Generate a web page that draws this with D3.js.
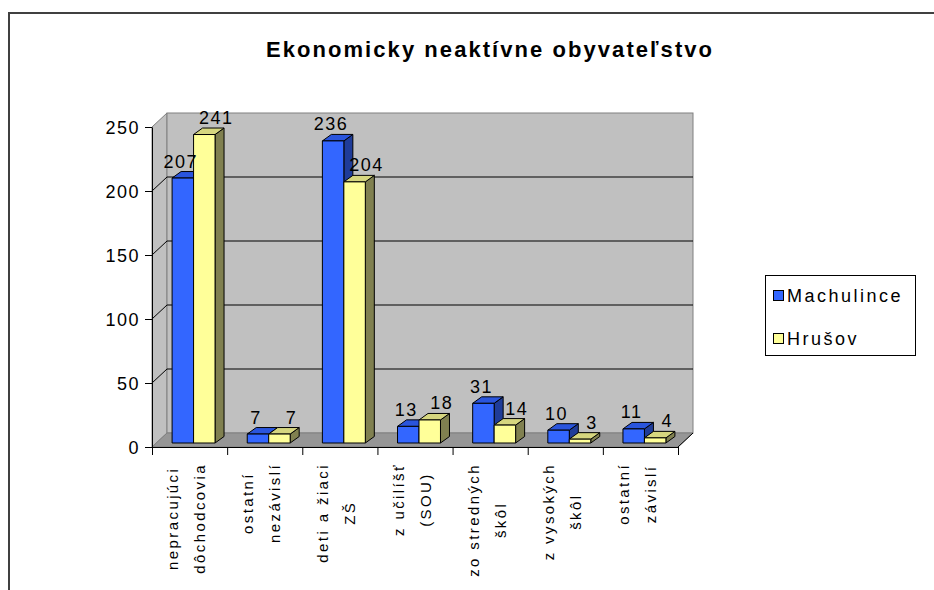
<!DOCTYPE html>
<html><head><meta charset="utf-8">
<script src="https://cdn.jsdelivr.net/npm/d3@7/dist/d3.min.js"></script>
<style>
html,body{margin:0;padding:0;background:#fff;}
svg{display:block;font-family:"Liberation Sans",Arial,sans-serif;}
</style></head>
<body>
<svg id="chart" width="934" height="590"></svg>
<script>
const title = "Ekonomicky neaktívne obyvateľstvo";
const categories = [
  ["nepracujúci","dôchodcovia"],
  ["ostatní","nezávislí"],
  ["deti a žiaci","ZŠ"],
  ["z učilíšť","(SOU)"],
  ["zo stredných","škôl"],
  ["z vysokých","škôl"],
  ["ostatní","závislí"]
];
const seriesNames = ["Machulince","Hrušov"];
const machulince = [207,7,236,13,31,10,11];
const hrusov = [241,7,204,18,14,3,4];
const yTicks = [0,50,100,150,200,250];

const seriesValues = [machulince, hrusov];
const colors = [
  {front:"#3366FF", top:"#2A55DD", side:"#1F3C99"},
  {front:"#FFFF99", top:"#D6D67F", side:"#808050"}
];

const svg = d3.select("#chart");

// outer frame
svg.append("path").attr("d","M9,590 V13 H934").attr("fill","none")
  .attr("stroke","#404040").attr("stroke-width",2);

// geometry
const X0 = 152, X1 = 678, Y0 = 447, Y1 = 127;
const DX = 15, DY = -14;          // wall depth
const BOX = 4, BOY = -4;          // bar front offset
const BDX = 9, BDY = -6.5;        // bar depth

const y = d3.scaleLinear().domain([0,250]).range([Y0, Y1]);
const x = d3.scaleBand().domain(d3.range(categories.length)).range([X0, X1]).paddingInner(0).paddingOuter(0);
const xs = d3.scaleBand().domain(d3.range(seriesNames.length)).range([0, x.bandwidth()]).paddingInner(0).paddingOuter(0.75);
const xIdx = d3.scaleLinear().domain([0, categories.length]).range([X0, X1]);

const g = svg.append("g");

// side (left) wall
g.append("path")
  .attr("d", `M${X0},${y(0)} L${X0},${y(250)} L${X0+DX},${y(250)+DY} L${X0+DX},${y(0)+DY} Z`)
  .attr("fill","#C0C0C0").attr("stroke","#808080").attr("stroke-width",1);
// back wall
g.append("rect")
  .attr("x", X0+DX).attr("y", y(250)+DY)
  .attr("width", X1-X0).attr("height", y(0)-y(250))
  .attr("fill","#C0C0C0").attr("stroke","#808080").attr("stroke-width",1);
// floor
g.append("path")
  .attr("d", `M${X0},${y(0)} L${X1},${y(0)} L${X1+DX},${y(0)+DY} L${X0+DX},${y(0)+DY} Z`)
  .attr("fill","#969696").attr("stroke","#808080").attr("stroke-width",1);
g.append("line")
  .attr("x1", X1).attr("y1", y(0)).attr("x2", X1+DX).attr("y2", y(0)+DY)
  .attr("stroke","#000").attr("stroke-width",1);

// gridlines
const gridVals = yTicks.filter(v => v > 0 && v < 250);
g.selectAll("path.grid").data(gridVals).enter().append("path").attr("class","grid")
  .attr("d", v => `M${X0},${y(v)} L${X0+DX},${y(v)+DY} L${X1+DX},${y(v)+DY}`)
  .attr("fill","none").attr("stroke","#000").attr("stroke-width",1);

// bars
const barW = xs.bandwidth();
function drawBar(parent, bx, val, c) {
  const yt = y(val) + BOY, yb = y(0) + BOY;
  const x0 = bx + BOX, x1 = x0 + barW;
  const bg = parent.append("g").attr("stroke","#000").attr("stroke-width",1).attr("stroke-linejoin","round");
  bg.append("path").attr("d", `M${x1},${yb} L${x1},${yt} L${x1+BDX},${yt+BDY} L${x1+BDX},${yb+BDY} Z`).attr("fill", c.side);
  bg.append("path").attr("d", `M${x0},${yt} L${x0+BDX},${yt+BDY} L${x1+BDX},${yt+BDY} L${x1},${yt} Z`).attr("fill", c.top);
  bg.append("rect").attr("x", x0).attr("y", yt).attr("width", barW).attr("height", yb-yt).attr("fill", c.front);
}
const labelDX = [-2, 12];
const labels = [];
categories.forEach((cat, i) => {
  seriesValues.forEach((vals, s) => {
    const bx = x(i) + xs(s);
    drawBar(g, bx, vals[i], colors[s]);
    labels.push({x: bx + BOX + barW/2 + labelDX[s], y: y(vals[i]) + BOY + BDY - 4, t: vals[i]});
  });
});

// data labels
g.selectAll("text.dl").data(labels).enter().append("text").attr("class","dl")
  .attr("x", d => d.x).attr("y", d => d.y)
  .attr("text-anchor","middle").attr("font-size",18).attr("letter-spacing","1.5px")
  .attr("fill","#000").text(d => d.t);

// y axis
const yAxis = svg.append("g").attr("transform", `translate(${X0},0)`)
  .call(d3.axisLeft(y).tickValues(yTicks).tickSize(7).tickPadding(5).tickSizeOuter(0));
yAxis.select(".domain").attr("stroke","#000");
yAxis.selectAll(".tick line").attr("stroke","#000");
yAxis.selectAll(".tick text").attr("font-size",18).attr("font-family","Liberation Sans, Arial, sans-serif")
  .attr("letter-spacing","1.5px").attr("fill","#000").attr("dy","0.36em");

// x axis
const xAxis = svg.append("g").attr("transform", `translate(0,${Y0})`)
  .call(d3.axisBottom(xIdx).tickValues(d3.range(categories.length+1)).tickSize(8).tickFormat("").tickSizeOuter(0));
xAxis.select(".domain").attr("stroke","#000");
xAxis.selectAll(".tick line").attr("stroke","#000");

// category labels
const topY = 463;
categories.forEach((lines, i) => {
  const cx = x(i) + x.bandwidth()/2;
  const cg = svg.append("g");
  const texts = lines.map((ln, k) => cg.append("text")
    .attr("font-size",15).attr("letter-spacing","2.4px").attr("fill","#000")
    .attr("text-anchor","middle").attr("y", k === 0 ? -11.5 : 15.5).text(ln));
  const maxW = d3.max(texts, t => t.node().getComputedTextLength());
  texts.forEach(t => t.attr("x", -maxW/2));
  cg.attr("transform", `translate(${cx},${topY}) rotate(-90)`);
});

// title
svg.append("text").attr("x", 489).attr("y", 57).attr("text-anchor","middle")
  .attr("font-size",22).attr("font-weight","bold").attr("fill","#000")
  .attr("textLength", 446).attr("lengthAdjust","spacing").text(title);

// legend
const lg = svg.append("g");
lg.append("rect").attr("x",765.5).attr("y",275.5).attr("width",150).attr("height",80)
  .attr("fill","#fff").attr("stroke","#000").attr("stroke-width",1);
seriesNames.forEach((name, s) => {
  const cy = 296 + s*43;
  lg.append("rect").attr("x",773.5).attr("y",cy-5.5).attr("width",10).attr("height",10)
    .attr("fill",colors[s].front).attr("stroke","#000").attr("stroke-width",1);
  lg.append("text").attr("x",787).attr("y",cy).attr("dy","0.36em")
    .attr("font-size",18).attr("letter-spacing","2.5px").attr("fill","#000").text(name);
});
</script>
</body></html>
